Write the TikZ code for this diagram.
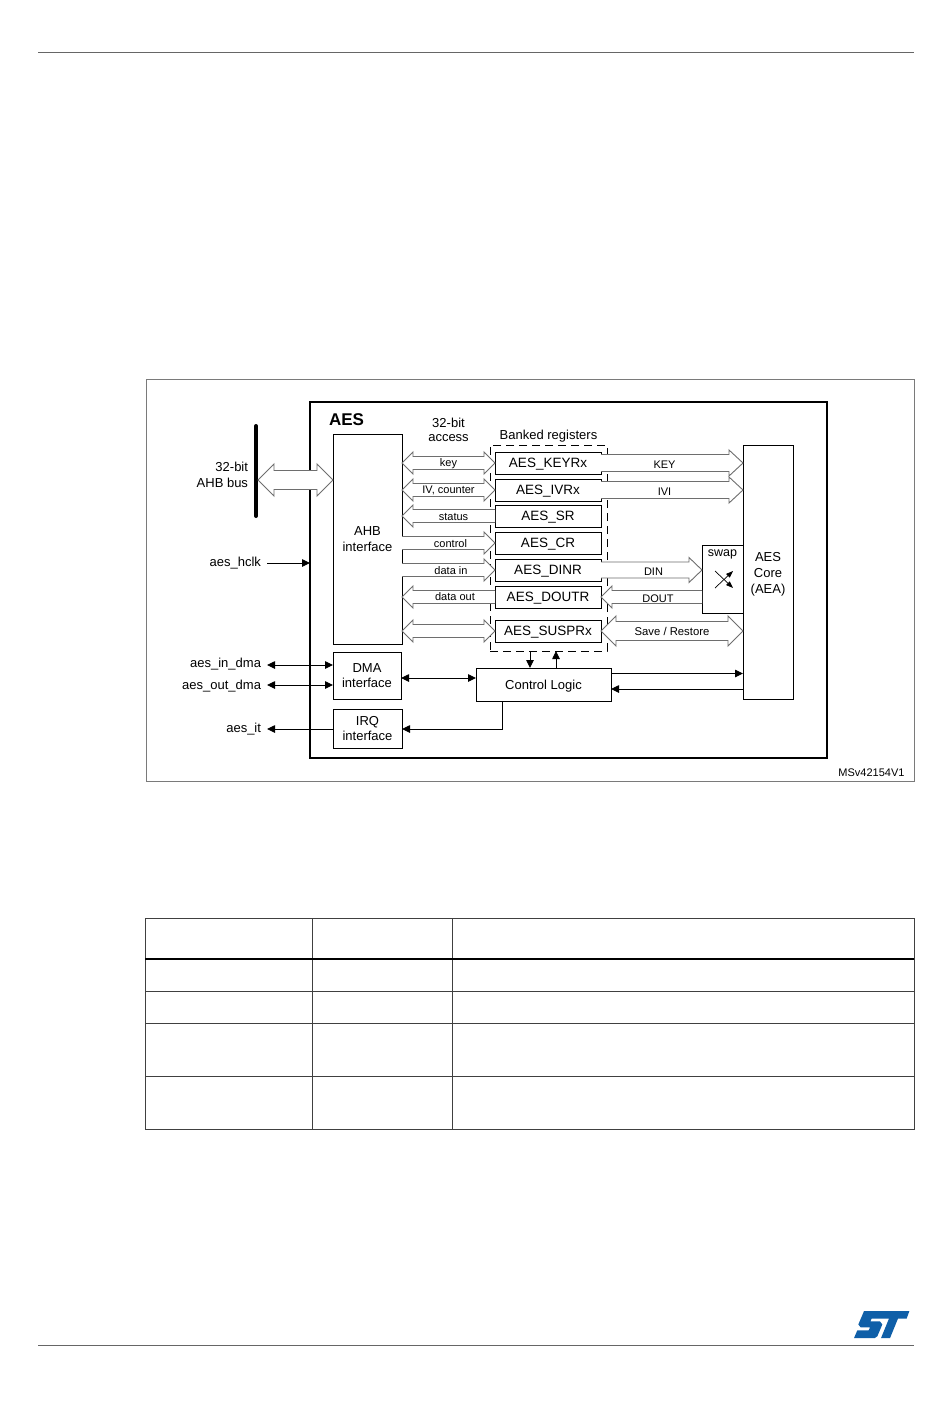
\documentclass[tikz,border=0pt]{standalone}
\usepackage{fontspec}
\setmainfont{Liberation Sans}
\usetikzlibrary{arrows.meta,calc}
\definecolor{rulegray}{HTML}{7A7A7A}
\definecolor{arrowgray}{HTML}{6E6E6E}
\definecolor{stblue}{HTML}{0F5FA8}
\tikzset{
  box/.style={draw=black,line width=0.9pt,inner sep=0pt,outer sep=0pt,align=center,font=\fontsize{13}{15.5}\selectfont},
  regbox/.style={box,minimum width=106pt,minimum height=22pt,font=\fontsize{13.5}{15}\selectfont,fill=white,text height=10pt,text depth=0.3pt},
  lab/.style={inner sep=0pt,outer sep=0pt,align=center,font=\fontsize{13}{15.5}\selectfont},
  small/.style={inner sep=0pt,outer sep=0pt,yshift=-1pt,font=\fontsize{11}{13}\selectfont},
  blockarrow/.style={draw=arrowgray,line width=0.9pt,fill=white,line join=miter},
  sig/.style={draw=black,line width=0.9pt},
  tip/.style={-{Triangle[length=8pt,width=7.5pt]}},
  tips/.style={{Triangle[length=8pt,width=7.5pt]}-{Triangle[length=8pt,width=7.5pt]}},
  grid/.style={draw=black!75,line width=0.8pt},
  pagerule/.style={draw=black!60,line width=0.9pt}
}
% from, to, half shaft, half head, head length
\newcommand\bboth[5]{\path[blockarrow] let \p1=(#1),\p2=(#2) in
 (\x1,\y1) -- (\x1+#5pt,\y1+#4pt) -- (\x1+#5pt,\y1+#3pt) -- (\x2-#5pt,\y2+#3pt) -- (\x2-#5pt,\y2+#4pt) -- (\x2,\y2)
 -- (\x2-#5pt,\y2-#4pt) -- (\x2-#5pt,\y2-#3pt) -- (\x1+#5pt,\y1-#3pt) -- (\x1+#5pt,\y1-#4pt) -- cycle;}
\newcommand\bright[5]{\path[blockarrow] let \p1=(#1),\p2=(#2) in
 (\x1,\y1+#3pt) -- (\x2-#5pt,\y2+#3pt) -- (\x2-#5pt,\y2+#4pt) -- (\x2,\y2)
 -- (\x2-#5pt,\y2-#4pt) -- (\x2-#5pt,\y2-#3pt) -- (\x1,\y1-#3pt);}
\newcommand\bleft[5]{\path[blockarrow] let \p1=(#1),\p2=(#2) in
 (\x2,\y2+#3pt) -- (\x1+#5pt,\y1+#3pt) -- (\x1+#5pt,\y1+#4pt) -- (\x1,\y1)
 -- (\x1+#5pt,\y1-#4pt) -- (\x1+#5pt,\y1-#3pt) -- (\x2,\y2-#3pt);}
\begin{document}
\begin{tikzpicture}[x=1pt,y=-1pt]
\useasboundingbox[fill=white] (0,0) rectangle (950,1420);
% page rules
\draw[pagerule] (38,52) -- (914,52);
\draw[pagerule] (38,1345) -- (914,1345);
% figure frame
\node[draw=rulegray,line width=0.8pt,minimum width=768pt,minimum height=402pt,inner sep=0pt,outer sep=0pt] (frame) at (530,580) {};
\node[draw=black,line width=2pt,minimum width=517pt,minimum height=356pt,inner sep=0pt,outer sep=0pt] (aes) at (568.5,580) {};
\node[inner sep=0pt,font=\fontsize{17}{18}\selectfont\bfseries] (aestitle) at (346.5,420) {AES};
\node[dash pattern=on 8pt off 5pt,draw=black,line width=0.9pt,minimum width=117pt,minimum height=206pt,inner sep=0pt,outer sep=0pt] (banked) at (548.5,548) {};
% main blocks
\node[box,fill=white,minimum width=69pt,minimum height=210pt] (ahb) at (367.5,539) {AHB\\interface};
\node[box,fill=white,minimum width=68pt,minimum height=47pt] (dma) at (367,675.5) {DMA\\interface};
\node[box,fill=white,minimum width=69pt,minimum height=39pt] (irq) at (367.5,728.5) {IRQ\\interface};
\node[box,fill=white,minimum width=135pt,minimum height=33pt,text height=10pt,text depth=0.3pt] (ctrl) at (543.5,684.5) {Control Logic};
\node[box,fill=white,minimum width=50pt,minimum height=254pt] (core) at (768,572) {};
\node[lab,font=\fontsize{13}{16}\selectfont] (corelab) at (768,574) {AES\\Core\\(AEA)};
\node[box,fill=white,minimum width=41pt,minimum height=68pt] (swap) at (722.5,579) {};
\node[small,font=\fontsize{12.5}{14}\selectfont] (swaplab) at (722.5,553.5) {swap};
% registers
\node[regbox] (keyr) at (548,463) {AES\_KEYRx};
\node[regbox] (ivr) at (548,490) {AES\_IVRx};
\node[regbox] (sr) at (548,516) {AES\_SR};
\node[regbox] (cr) at (548,543) {AES\_CR};
\node[regbox] (dinr) at (548,570) {AES\_DINR};
\node[regbox] (doutr) at (548,597) {AES\_DOUTR};
\node[regbox] (suspr) at (548,631) {AES\_SUSPRx};
\node[lab,font=\fontsize{13}{13.5}\selectfont] (access) at (448.5,429.8) {32-bit\\access};
\node[lab] (banklab) at (548.5,436) {Banked registers};
% bus
\coordinate (bustop) at (256,426);
\coordinate (busbot) at (256,516);
\draw[line width=4pt,line cap=round] (bustop) -- (busbot);
\coordinate (busl) at (258,480);
\coordinate (ahbbus) at (ahb.west |- busl);
\bboth{busl}{ahbbus}{9.5}{16}{16}
\node[lab,align=right,anchor=east] (buslab) at (248,475) {32-bit\\AHB bus};
% AHB to registers
\bboth{ahb.east |- keyr.west}{keyr.west}{6.5}{11}{11}
\bboth{ahb.east |- ivr.west}{ivr.west}{6.5}{11}{11}
\bleft{ahb.east |- sr.west}{sr.west}{6.5}{11}{11}
\bright{ahb.east |- cr.west}{cr.west}{6.5}{11}{11}
\bright{ahb.east |- dinr.west}{dinr.west}{6.5}{11}{11}
\bleft{ahb.east |- doutr.west}{doutr.west}{6.5}{11}{11}
\bboth{ahb.east |- suspr.west}{suspr.west}{6.5}{11}{11}
\node[small] (lkey) at (448.5,462.5) {key};
\node[small] (liv) at (448.5,489) {IV, counter};
\node[small] (lst) at (453.5,516) {status};
\node[small] (lct) at (450.5,543) {control};
\node[small] (ldi) at (451,570) {data in};
\node[small] (ldo) at (455,596) {data out};
% registers to core
\bright{keyr.east}{core.west |- keyr.east}{8.5}{13}{14}
\bright{ivr.east}{core.west |- ivr.east}{8.5}{13}{14}
\coordinate (swapin) at (swap.west |- dinr.east);
\bright{dinr.east}{swapin}{8}{12.5}{13}
\coordinate (swapout) at (swap.west |- doutr.east);
\bleft{doutr.east}{swapout}{6.5}{11}{11}
\bboth{suspr.east}{core.west |- suspr.east}{9.5}{15}{15}
\node[small] (lkeyu) at (664.5,463.5) {KEY};
\node[small] (livi) at (664.5,490.5) {IVI};
\node[small] (ldin) at (653.5,570.5) {DIN};
\node[small] (ldout) at (658,598) {DOUT};
\node[small,font=\fontsize{11.3}{13}\selectfont] (lsave) at (672,630) {Save / Restore};
% swap cross
\coordinate (sa) at (715,571);
\coordinate (sb) at (733,588);
\coordinate (sc) at (715,588);
\coordinate (sd) at (733,571);
\draw[line width=0.7pt,-{Triangle[length=7pt,width=5pt]}] (sa) -- (sb);
\draw[line width=0.7pt,-{Triangle[length=7pt,width=5pt]}] (sc) -- (sd);
% signals
\node[lab,anchor=east] (hclk) at (261,563) {aes\_hclk};
\node[lab,anchor=east] (indma) at (261,664) {aes\_in\_dma};
\node[lab,anchor=east] (outdma) at (261,686) {aes\_out\_dma};
\node[lab,anchor=east] (it) at (261,729.5) {aes\_it};
\coordinate (hclkstart) at (267,563);
\coordinate (indmaend) at (267,665);
\coordinate (outdmaend) at (267,685);
\coordinate (itend) at (267,729);
\draw[sig,tip] (hclkstart) -- (aes.west |- hclkstart);
\draw[sig,tips] (indmaend) -- (dma.west |- indmaend);
\draw[sig,tips] (outdmaend) -- (dma.west |- outdmaend);
\draw[sig,tip] (irq.west |- itend) -- (itend);
\coordinate (dmactl) at (402,678);
\draw[sig,tips] (dma.east |- dmactl) -- (ctrl.west |- dmactl);
\coordinate (ctlirq) at (502,701);
\coordinate (irqturn) at (502,729);
\draw[sig,tip] (ctlirq) -- (irqturn) -- (irq.east |- irqturn);
\coordinate (c1) at (530,668);
\coordinate (c2) at (556,668);
\draw[sig,tip] (banked.south -| c1) -- (c1);
\draw[sig,tip] (c2) -- (banked.south -| c2);
\coordinate (cc1) at (611,673.5);
\coordinate (cc2) at (611,689);
\draw[sig,tip] (cc1) -- (core.west |- cc1);
\draw[sig,tip] (core.west |- cc2) -- (cc2);
\node[inner sep=0pt,font=\fontsize{11}{12}\selectfont] (ref) at (871.5,773) {MSv42154V1};
% table
\draw[grid] (145,918) rectangle (914,1129.5);
\draw[grid] (312,918) -- (312,1129.5);
\draw[grid] (452,918) -- (452,1129.5);
\draw[draw=black,line width=2pt] (145,958.5) -- (914,958.5);
\draw[grid] (145,991) -- (914,991);
\draw[grid] (145,1023) -- (914,1023);
\draw[grid] (145,1076) -- (914,1076);
% logo
\begin{scope}[shift={(840,1300)},x=0.3333pt,y=-0.37pt]
\fill[stblue] (72,30) -- (208,30) -- (200,50) -- (174,50) -- (150,103) -- (123,103) -- (147,50) -- (95,50) -- (91,58)
 -- (120,58) -- (127,66) -- (112,98) -- (104,103) -- (42,103) -- (52,82) -- (86,82) -- (90,74) -- (62,74) -- (55,66) -- cycle;
\end{scope}
\end{tikzpicture}
\end{document}
